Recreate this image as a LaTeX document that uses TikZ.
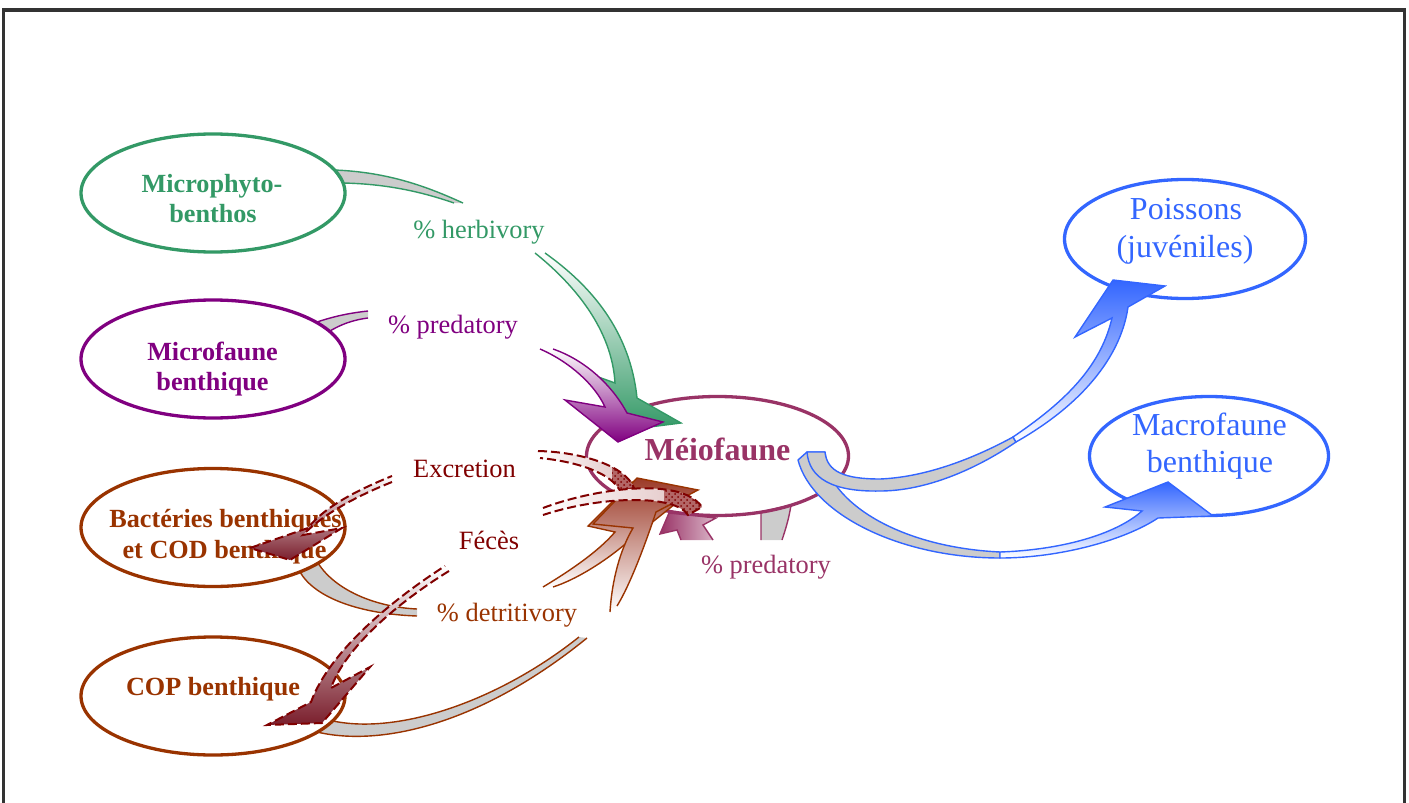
\documentclass[tikz,border=0pt]{standalone}
\usepackage{fontspec}
\setmainfont{Liberation Serif}
\usetikzlibrary{shapes.geometric,patterns}
\definecolor{cgreen}{HTML}{339966}
\definecolor{cpurple}{HTML}{800080}
\definecolor{cbrown}{HTML}{993300}
\definecolor{cmeio}{HTML}{993366}
\definecolor{cblue}{HTML}{3366FF}
\definecolor{cdred}{HTML}{800000}
\definecolor{cdredfill}{HTML}{7A1E2C}
\definecolor{cgray}{HTML}{CCCCCC}
\definecolor{cframe}{HTML}{333333}
\definecolor{cbrownhead}{HTML}{9C3A28}
\begin{document}
\begin{tikzpicture}[x=0.5pt,y=-0.5pt,
  ell/.style={ellipse, draw=#1, line width=1.65pt, inner sep=0pt, minimum width=132pt, minimum height=59pt},
  boldlbl/.style={text=#1, font=\bfseries\fontsize{13.1}{15}\selectfont, anchor=base, inner sep=0pt},
  lbl/.style={text=#1, font=\fontsize{13.2}{15}\selectfont, anchor=base, inner sep=0pt},
  biglbl/.style={text=#1, font=\fontsize{16}{19}\selectfont, anchor=base, inner sep=0pt},
  backband/.style={fill=cgray, draw=#1, line width=0.7pt, line join=round},
  frontband/.style={draw=#1, line width=0.7pt, line join=miter},
  dashband/.style={draw=cdred, line width=1pt, dash pattern=on 4.5pt off 2pt},
]
\useasboundingbox (0,0) rectangle (1409,803);
\draw[cframe, line width=1.9pt] (3.5,806) -- (3.5,10) -- (1404.5,10) -- (1404.5,806);

% back (grey) bands
\draw[backband=cgreen] (454,203) .. controls (425,193) and (390,184) .. (343,183) -- (334,170) .. controls (390,172) and (430,188) .. (463,203);
\draw[backband=cpurple] (368,318) .. controls (352,320) and (340,325) .. (330,331) -- (317,322) .. controls (335,316) and (350,313) .. (368,311);
\draw[backband=cbrown] (417,609) .. controls (375,607) and (335,590) .. (318,563) -- (300,572) .. controls (315,598) and (360,614) .. (417,616);
\draw[backband=cbrown] (579,637) .. controls (500,700) and (400,735) .. (333,721) -- (317,732) .. controls (380,747) and (480,725) .. (587,638);
\draw[backband=cmeio] (761,540) -- (761,512) -- (791,505) .. controls (789,518) and (786,528) .. (782,540);

% ellipses
\node[ell=cgreen] (micro) at (213,193) {};
\node[ell=cpurple] (microf) at (213,359) {};
\node[ell=cbrown] (bact) at (213,527.5) {};
\node[ell=cbrown] (cop) at (213,696) {};
\node[ell=cmeio, minimum width=131pt, minimum height=59.5pt] (meio) at (717.5,456) {};
\node[ell=cblue, minimum width=120.5pt, minimum height=59.5pt] (poiss) at (1185,239) {};
\node[ell=cblue, minimum width=119.5pt, minimum height=59.5pt] (macro) at (1209,456) {};

% front bands
\draw[frontband=cgreen, top color=white, bottom color=cgreen] (535,253) .. controls (575,285) and (612,330) .. (615,383) -- (590,374) -- (626,430) -- (681,423) -- (637,398) .. controls (630,330) and (590,285) .. (545,253);
\draw[frontband=cpurple, top color=white, bottom color=cpurple] (540,349) .. controls (570,362) and (595,385) .. (605,407) -- (565,400) -- (618,442) -- (663,422) -- (627,413) .. controls (612,385) and (585,360) .. (553,349);
\draw[frontband=cbrown, top color=cbrownhead, bottom color=white] (543,587) .. controls (568,572) and (598,552) .. (615,532) -- (588,526) -- (632,482) -- (680,500) -- (630,540) .. controls (605,562) and (575,580) .. (553,587);
\draw[frontband=cbrown, top color=cbrownhead, bottom color=white] (610,612) .. controls (612,580) and (620,550) .. (633,528) -- (593,524) -- (637,478) -- (698,490) -- (656,512) .. controls (645,545) and (630,585) .. (617,606);
\draw[frontband=cmeio, left color=cmeio, right color=cmeio!35] (681,540) -- (677,530) -- (660,534) -- (669,513) -- (716,518) -- (703,525) -- (713,540);

% blue bands
\draw[backband=cblue] (798,460) -- (807,452) -- (825,452) -- (828,472) .. controls (848,515) and (915,548) .. (1000,552) -- (1000,558) .. controls (900,558) and (812,514) .. (798,460) -- cycle;
\draw[backband=cblue] (807,452) -- (825,452) .. controls (827,472) and (845,479) .. (880,479) .. controls (930,477) and (980,455) .. (1013,437) -- (1016,442) .. controls (975,470) and (925,491) .. (880,491) .. controls (832,492) and (809,478) .. (807,452) -- cycle;
\draw[frontband=cblue, top color=cblue, bottom color=white] (1013,437) .. controls (1060,405) and (1100,370) .. (1112,318) -- (1075,337) -- (1113,280) -- (1165,286) -- (1128,307) .. controls (1122,350) and (1090,400) .. (1016,442) -- cycle;
\draw[frontband=cblue, top color=cblue, bottom color=white] (1000,552) .. controls (1060,550) and (1115,535) .. (1142,511) -- (1105,507) -- (1168,482) -- (1213,516) -- (1158,518) .. controls (1125,540) and (1060,558) .. (1000,558) -- cycle;

% texts
\node[boldlbl=cgreen] (microA) at (212,192) {Microphyto-};
\node[boldlbl=cgreen] (microB) at (213,222) {benthos};
\node[boldlbl=cpurple] (microfA) at (212.5,360) {Microfaune};
\node[boldlbl=cpurple] (microfB) at (212.5,390) {benthique};
\node[boldlbl=cbrown] (bactA) at (225.5,527) {Bactéries benthiques};
\node[boldlbl=cbrown] (bactB) at (224.5,558) {et COD benthique};
\node[boldlbl=cbrown] (copT) at (213,695) {COP benthique};
\node[lbl=cgreen] (herb) at (479,238) {\% herbivory};
\node[lbl=cpurple] (pred1) at (453,333) {\% predatory};
\node[lbl=cdred] (excr) at (464.5,477) {Excretion};
\node[lbl=cdred] (feces) at (489,549) {Fécès};
\node[lbl=cbrown] (detr) at (507,621) {\% detritivory};
\node[lbl=cmeio] (pred2) at (766,573) {\% predatory};
\node[biglbl=cmeio, font=\bfseries\fontsize{16}{19}\selectfont] (meioT) at (717.5,460) {Méiofaune};
\node[biglbl=cblue] (poissA) at (1186,219) {Poissons};
\node[biglbl=cblue] (poissB) at (1185,257) {(juvéniles)};
\node[biglbl=cblue] (macroA) at (1209.5,435) {Macrofaune};
\node[biglbl=cblue] (macroB) at (1210,472) {benthique};

% dashed arrows: excretion
\shade[left color=white, right color=cdred!25] (538,451) .. controls (580,452) and (625,465) .. (634,488) -- (620,491) .. controls (612,474) and (580,462) .. (540,458) -- cycle;
\begin{scope}
\clip (612,440) rectangle (700,500);
\fill[cdred!60] (538,451) .. controls (580,452) and (625,465) .. (634,488) -- (620,491) .. controls (612,474) and (580,462) .. (540,458) -- cycle;
\fill[pattern=crosshatch dots, pattern color=cdred] (538,451) .. controls (580,452) and (625,465) .. (634,488) -- (620,491) .. controls (612,474) and (580,462) .. (540,458) -- cycle;
\end{scope}
\draw[dashband] (538,451) .. controls (580,452) and (625,465) .. (634,488) -- (620,491) .. controls (612,474) and (580,462) .. (540,458);
\draw[dashband, top color=white, bottom color=cdredfill] (392,482) .. controls (362,494) and (325,512) .. (303,535) -- (342,528) -- (290,560) -- (250,548) -- (308,528) .. controls (325,506) and (360,489) .. (392,476);

% dashed arrows: feces
\shade[left color=white, right color=cdred!25] (543,508) .. controls (590,490) and (680,475) .. (702,507) -- (688,515) .. controls (675,494) and (600,496) .. (543,515) -- cycle;
\begin{scope}
\clip (664,470) rectangle (710,520);
\fill[cdred!60] (543,508) .. controls (590,490) and (680,475) .. (702,507) -- (688,515) .. controls (675,494) and (600,496) .. (543,515) -- cycle;
\fill[pattern=crosshatch dots, pattern color=cdred] (543,508) .. controls (590,490) and (680,475) .. (702,507) -- (688,515) .. controls (675,494) and (600,496) .. (543,515) -- cycle;
\end{scope}
\draw[dashband] (543,508) .. controls (590,490) and (680,475) .. (702,507) -- (688,515) .. controls (675,494) and (600,496) .. (543,515);
\draw[dashband, top color=white, bottom color=cdredfill] (449,571) .. controls (397,603) and (345,648) .. (331,688) -- (370,667) -- (322,723) -- (267,725) -- (311,702) .. controls (330,650) and (395,598) .. (445,566);
\end{tikzpicture}
\end{document}
